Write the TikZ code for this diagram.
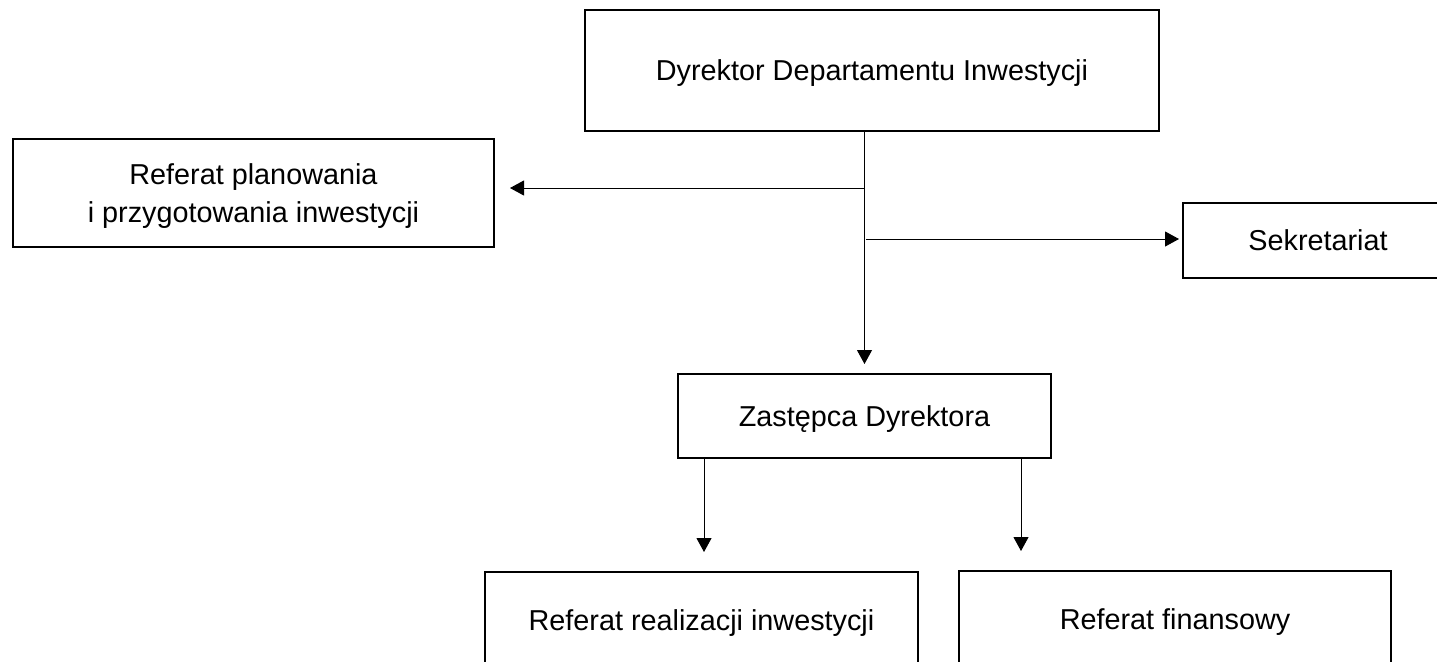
\documentclass[tikz,border=0pt]{standalone}
\usepackage{fontspec}
\setmainfont{Liberation Sans}
\usepackage{tikz}
\usetikzlibrary{arrows.meta}

\begin{document}
\begin{tikzpicture}[
    x=0.5pt, y=-0.5pt,
    font=\fontsize{14.4}{19}\selectfont,
    unit/.style={draw, line width=1pt, rectangle, align=center, inner sep=0pt, text depth=0pt},
    link/.style={line width=0.5pt, -{Triangle[length=7pt,width=7.5pt]}}
]
\useasboundingbox (0,0) rectangle (1437,661);

\node[unit, minimum width=287pt, minimum height=60.5pt] (dyrektor) at (872,70.5) {Dyrektor Departamentu Inwestycji};
\node[unit, minimum width=240.5pt, minimum height=54pt] (planowanie) at (253.5,193) {Referat planowania\\i przygotowania inwestycji};
\node[unit, minimum width=135pt, minimum height=37.5pt] (sekretariat) at (1318,240.5) {Sekretariat};
\node[unit, minimum width=186.5pt, minimum height=42pt] (zastepca) at (864.5,416) {Zastępca Dyrektora};
\node[unit, minimum width=216.5pt, minimum height=48pt] (realizacja) at (701.5,620) {Referat realizacji inwestycji};
\node[unit, minimum width=216pt, minimum height=48pt] (finanse) at (1175,619) {Referat finansowy};

\coordinate (rozgl) at (864,188);
\coordinate (rozgs) at (866,239);
\coordinate (zastl) at (704,458);
\coordinate (zastp) at (1021,458);

\draw[link, shorten >=4.5pt] (dyrektor.south -| zastepca.north) -- (zastepca.north);
\draw[link, shorten >=7.5pt] (rozgl) -- (rozgl -| planowanie.east);
\draw[link, shorten >=1.5pt] (rozgs) -- (rozgs -| sekretariat.west);
\draw[link, shorten >=9.5pt] (zastl) -- (zastl |- realizacja.north);
\draw[link, shorten >=9.5pt] (zastp) -- (zastp |- finanse.north);
\end{tikzpicture}
\end{document}
